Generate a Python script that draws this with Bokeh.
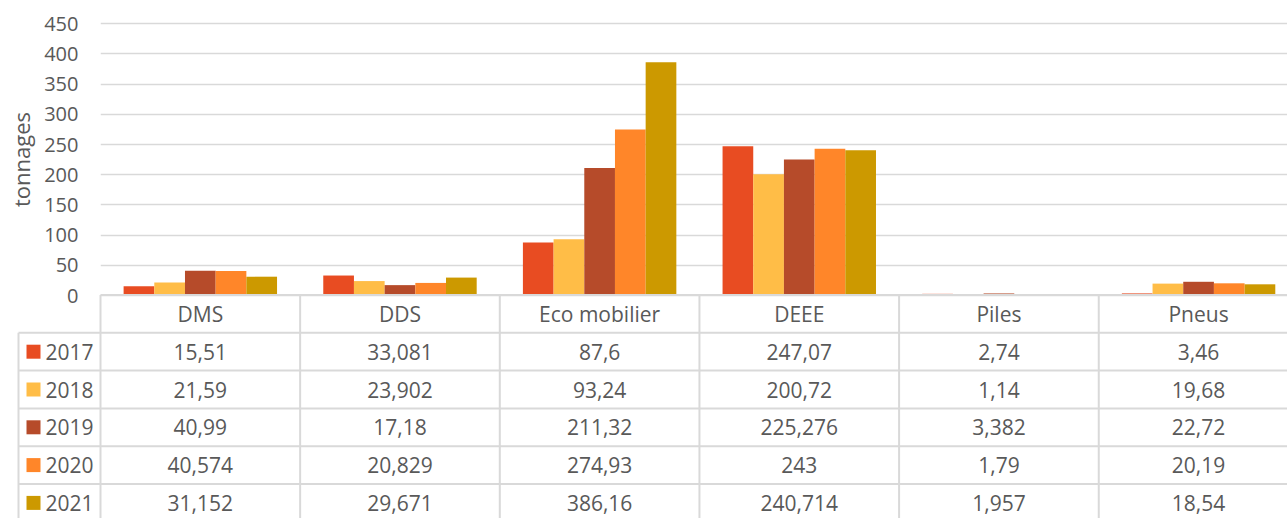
import math
from bokeh.plotting import figure
from bokeh.models import Range1d, FixedTicker, ColumnDataSource
from bokeh.core.properties import value
from bokeh.embed import file_html
from bokeh.resources import INLINE

# ---------------- data ----------------
categories = ["DMS", "DDS", "Eco mobilier", "DEEE", "Piles", "Pneus"]
years = ["2017", "2018", "2019", "2020", "2021"]
v2017 = [15.51, 33.081, 87.6, 247.07, 2.74, 3.46]
v2018 = [21.59, 23.902, 93.24, 200.72, 1.14, 19.68]
v2019 = [40.99, 17.18, 211.32, 225.276, 3.382, 22.72]
v2020 = [40.574, 20.829, 274.93, 243, 1.79, 20.19]
v2021 = [31.152, 29.671, 386.16, 240.714, 1.957, 18.54]
y_ticks = [0, 50, 100, 150, 200, 250, 300, 350, 400, 450]
y_label = "tonnages"

series = [v2017, v2018, v2019, v2020, v2021]
colors = ["#E84C22", "#FFBD47", "#B64B2A", "#FF8629", "#CC9900"]

# ---------------- layout constants ----------------
W, H = 1287, 518
LEFT = 100               # frame left (figure px)
COL_PX = 199.65          # px per category column
ZERO_PX = 295            # figure px of value 0 line
PX_PER_UNIT = 271.7 / 450
ROW_PX = 37.8
FONT = value("Open Sans")
TXT = "#595959"
GRID = "#d9d9d9"
FS = "20px"
FS_T = "21px"

x_end = (W - LEFT) / COL_PX
y_top = ZERO_PX / PX_PER_UNIT
y_bot = -(H - ZERO_PX) / PX_PER_UNIT
t_top = (ZERO_PX - 0.5) / ROW_PX
t_bot = -(H - ZERO_PX + 0.5) / ROW_PX

p = figure(width=W, height=H, output_backend="svg", toolbar_location=None,
           x_range=Range1d(0, x_end), y_range=Range1d(y_bot, y_top),
           min_border_left=LEFT, min_border_right=0, min_border_top=0,
           min_border_bottom=0)
p.extra_y_ranges = {"table": Range1d(t_bot, t_top)}
p.outline_line_color = None
p.background_fill_color = "white"
p.border_fill_color = "white"

# axes / grid
p.xaxis.visible = False
p.xgrid.visible = False
p.yaxis.ticker = FixedTicker(ticks=y_ticks)
p.yaxis.axis_line_color = None
p.yaxis.major_tick_line_color = None
p.yaxis.minor_tick_line_color = None
p.yaxis.major_tick_in = 0
p.yaxis.major_tick_out = 0
p.yaxis.major_label_standoff = 22
p.yaxis.major_label_text_font = "Open Sans"
p.yaxis.major_label_text_font_size = FS
p.yaxis.major_label_text_color = TXT
p.ygrid.ticker = FixedTicker(ticks=y_ticks)
p.ygrid.grid_line_color = GRID
p.ygrid.grid_line_width = 1.5

# bars
bw = 0.1537
n = len(categories)
for j, (vals, col) in enumerate(zip(series, colors)):
    xs = [i + 0.5 + (j - 2) * bw for i in range(n)]
    src = ColumnDataSource(dict(x=xs, top=vals))
    p.vbar(x="x", top="top", bottom=0, width=bw, source=src,
           fill_color=col, line_color=None)

# y axis title (drawn as text outside the frame)
p.text(x=[-80 / COL_PX], y=[(ZERO_PX - 159) / PX_PER_UNIT], text=[y_label],
       angle=math.pi / 2, text_align="center", text_baseline="middle",
       text_font=FONT, text_font_size="22px", text_color=TXT, level="overlay")

# ---------------- data table ----------------
leg_left = -82 / COL_PX
nrows = len(years)
tr = dict(y_range_name="table", level="overlay")

# horizontal lines
hx0 = [0] + [leg_left] * nrows
hy = [0] + [-(k + 1) for k in range(nrows)]
p.segment(x0=hx0, y0=hy, x1=[7] * len(hy), y1=hy,
          line_color=GRID, line_width=2, **tr)
# vertical lines
vx = [leg_left] + list(range(0, n + 1))
vy0 = [-1] + [0] * (n + 1)
p.segment(x0=vx, y0=vy0, x1=vx, y1=[-8] * len(vx),
          line_color=GRID, line_width=2, **tr)

# header
p.text(x=[i + 0.5 for i in range(n)], y=[-0.5] * n, text=categories,
       text_align="center", text_baseline="middle", text_font=FONT,
       text_font_size=FS_T, text_color=TXT, **tr)

# rows
for k, (yr, vals, col) in enumerate(zip(years, series, colors)):
    yc = -(k + 1.5)
    # legend key: a 14px square drawn as a thick butt-capped segment
    p.segment(x0=[-74 / COL_PX], y0=[yc], x1=[-60 / COL_PX], y1=[yc],
              line_color=col, line_width=14, line_cap="butt", **tr)
    p.text(x=[-55 / COL_PX], y=[yc], text=[yr], text_align="left",
           text_baseline="middle", text_font=FONT, text_font_size=FS_T,
           text_color=TXT, **tr)
    labels = [f"{v:g}".replace(".", ",") for v in vals]
    p.text(x=[i + 0.5 for i in range(n)], y=[yc] * n, text=labels,
           text_align="center", text_baseline="middle", text_font=FONT,
           text_font_size=FS_T, text_color=TXT, **tr)

open("out.html", "w").write(file_html(p, INLINE))
